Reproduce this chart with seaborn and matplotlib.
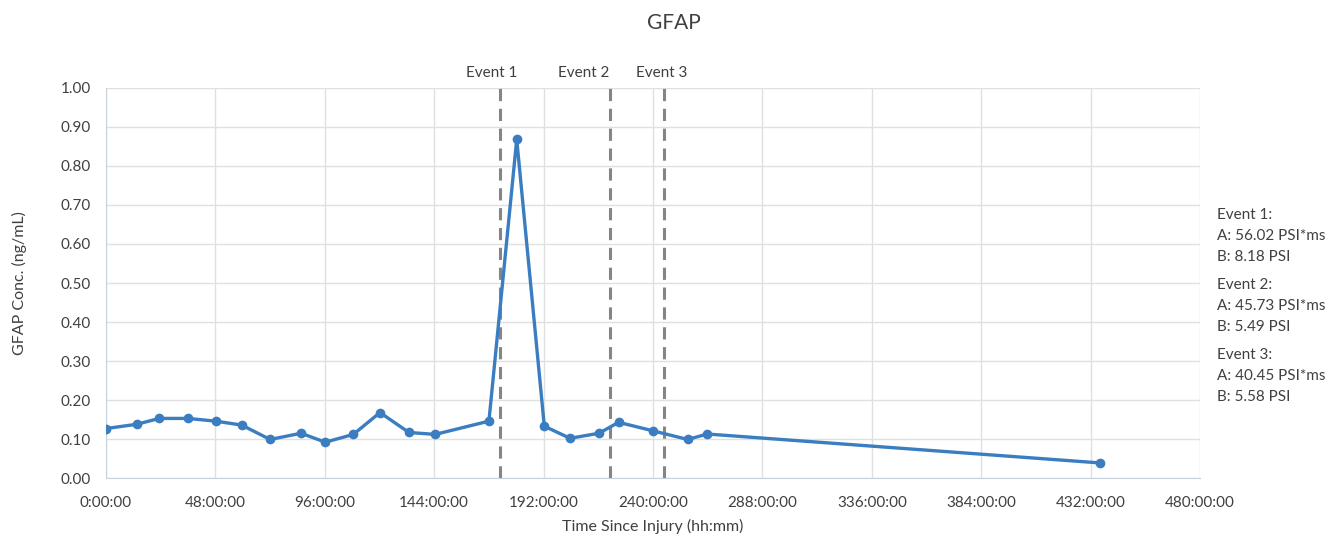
import matplotlib
matplotlib.use("Agg")
import matplotlib.pyplot as plt
import seaborn as sns
import pandas as pd

# heures depuis la blessure et concentration GFAP (ng/mL)
hours = [0, 13.5, 23.4, 35.8, 48.1, 59.5, 72.0, 85.6, 96.2, 108.5, 120.2, 132.9,
         144.4, 168.0, 180.2, 192.3, 203.6, 216.3, 224.9, 240.1, 255.2, 263.8, 435.9]
gfap = [0.127, 0.138, 0.153, 0.153, 0.146, 0.136, 0.099, 0.115, 0.092, 0.112, 0.168, 0.117,
        0.112, 0.146, 0.868, 0.133, 0.102, 0.115, 0.143, 0.121, 0.099, 0.113, 0.039]

event_names = ["Event 1", "Event 2", "Event 3"]
event_hours = [172.9, 221.1, 244.9]
event_label_shift = [-3.5, -11.4, -0.9]
event_notes = ["Event 1:\nA: 56.02 PSI*ms\nB: 8.18 PSI",
               "Event 2:\nA: 45.73 PSI*ms\nB: 5.49 PSI",
               "Event 3:\nA: 40.45 PSI*ms\nB: 5.58 PSI"]

x_ticks = list(range(0, 481, 48))
x_labels = [f"{h}:00:00" for h in x_ticks]

sns.set_style("white")
plt.rcParams['font.family'] = ['Lato', 'DejaVu Sans']
text_col = "#404040"

df = pd.DataFrame({"hours": hours, "gfap": gfap})

fig = plt.figure(figsize=(13.3, 5.36), dpi=100)
ax = fig.add_axes([0.0797, 0.108, 0.8226, 0.728])

sns.lineplot(data=df, x="hours", y="gfap", ax=ax, color="#3A7DC0", linewidth=2.4,
             marker="o", markersize=7, markeredgewidth=0, zorder=3)

for name, h, dx in zip(event_names, event_hours, event_label_shift):
    ax.axvline(h, ymin=0, ymax=1, color="#858585", linestyle=(0, (4, 2.5)), linewidth=2.2, zorder=2)
    ax.text(h + dx, 1.02, name, ha="center", va="bottom", fontsize=11, color=text_col)

ax.set_xlim(0, 480)
ax.set_ylim(0, 1.0)
ax.set_xticks(x_ticks)
ax.set_xticklabels(x_labels)
ax.set_yticks([i / 10 for i in range(11)])
ax.set_yticklabels([f"{i / 10:.2f}" for i in range(11)])
ax.grid(True, color="#E0E0E0", linewidth=1)
ax.set_axisbelow(True)
for s in ["top", "right"]:
    ax.spines[s].set_visible(False)
for s in ["left", "bottom"]:
    ax.spines[s].set_color("#C8D2DC")
ax.tick_params(axis="x", length=5, color="#D0D0D0", labelsize=11, labelcolor=text_col, pad=8)
ax.tick_params(axis="y", length=0, labelsize=11, labelcolor=text_col, pad=11)

ax.set_xlabel("Time Since Injury (hh:mm)", fontsize=11.5, color=text_col, labelpad=6)
ax.set_ylabel("GFAP Conc. (ng/mL)", fontsize=11.5, color=text_col, labelpad=24)
fig.text(0.507, 0.957, "GFAP", ha="center", va="center", fontsize=15, color=text_col)

note_y = [0.560, 0.429, 0.299]
for note, yy in zip(event_notes, note_y):
    fig.text(0.915, yy, note, ha="left", va="center", fontsize=11, color=text_col, linespacing=1.65)

fig.savefig("out.png", dpi=100)
